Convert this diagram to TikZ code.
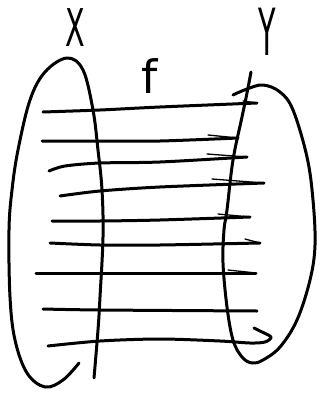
\documentclass[tikz,border=0pt]{standalone}
\usepackage{fontspec}
\setmainfont{DejaVu Sans}
\begin{document}
\begin{tikzpicture}[x=1pt,y=-1pt,
  ink/.style={line width=3pt,line cap=round,line join=round},
  barb/.style={line width=1.3pt,line cap=round},
  lbl/.style={inner sep=0pt,font=\fontsize{52}{52}\selectfont}]
\useasboundingbox (0,0) rectangle (320,393);
% labels
\node[lbl,xscale=0.55] (X) at (75,28) {X};
\node[lbl,xscale=0.55,yscale=1.25] (Y) at (267,32) {Y};
\node[lbl,font=\fontsize{46}{46}\selectfont] (f) at (150,76) {f};
% left set X
\draw[ink] plot[smooth,tension=0.6] coordinates {(79,363) (63,380) (45,387) (27,373) (15,340) (10,297) (9,230) (12,190) (18,150) (30,100) (45,72) (67,58) (83,70) (93,110) (98,150) (102,190) (103,237) (100,297) (98,330) (94,378)};
% right set Y
\draw[ink] plot[smooth,tension=0.6] coordinates {(233,95) (247,89) (263,85) (280,92) (293,110) (307,157) (313,200) (315,245) (310,280) (297,320) (280,347) (263,360) (252,363) (242,357) (233,340) (227,307) (223,263) (224,230) (227,210) (233,160) (242,117) (247,93) (251,72)};
% arrows of f
\draw[ink] plot[smooth] coordinates {(43,112) (100,110) (160,107) (257,103)};
\draw[barb] (243,101) -- (257,103);
\draw[ink] plot[smooth] coordinates {(42,141) (100,141) (160,141) (238,138)};
\draw[barb] (208,135) -- (238,138);
\draw[ink] plot[smooth] coordinates {(49,171) (65,166) (100,163) (160,162) (247,157)};
\draw[barb] (207,154) -- (247,157);
\draw[ink] plot[smooth] coordinates {(60,196) (100,191) (160,187) (264,183)};
\draw[barb] (212,179) -- (264,183);
\draw[ink] plot[smooth] coordinates {(52,221) (100,221) (160,220) (250,217)};
\draw[barb] (218,214) -- (250,217);
\draw[ink] plot[smooth] coordinates {(50,243) (100,245) (160,245) (260,243)};
\draw[barb] (245,239) -- (260,243);
\draw[ink] plot[smooth] coordinates {(36,273) (100,273) (256,273)};
\draw[barb] (228,270) -- (256,273);
\draw[ink] plot[smooth] coordinates {(43,309) (100,310) (257,311)};
\draw[ink] plot[smooth,tension=0.5] coordinates {(48,346) (100,341) (160,339) (220,341) (250,343) (265,342) (271,337) (260,331) (254,328)};
\end{tikzpicture}
\end{document}
